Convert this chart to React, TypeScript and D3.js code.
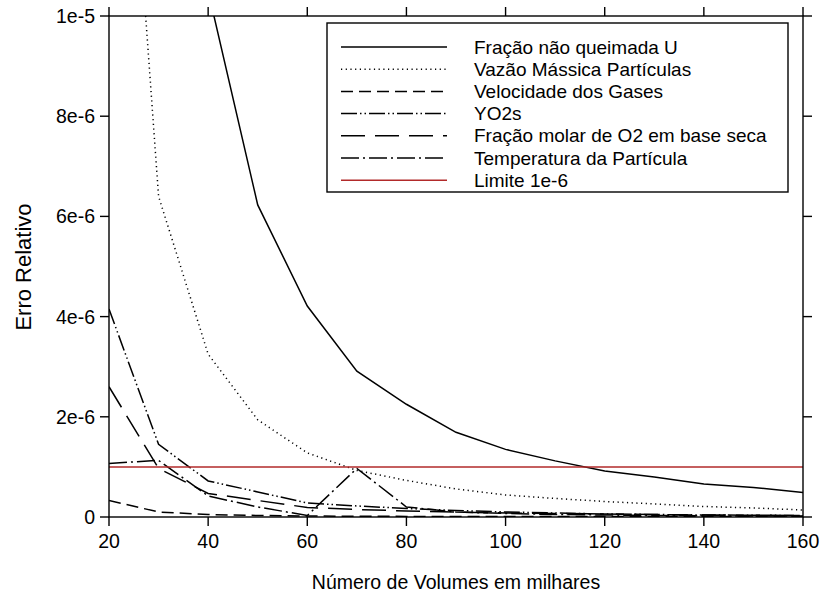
import React from "react";
import * as d3 from "d3";

const xValues = [20, 30, 40, 50, 60, 70, 80, 90, 100, 110, 120, 130, 140, 150, 160];

const fracaoNaoQueimada = [40.0, 20.0, 10.5, 6.23, 4.21, 2.91, 2.25, 1.69, 1.35, 1.12, 0.92, 0.80, 0.66, 0.59, 0.49];
const vazaoMassica = [20.2, 6.4, 3.25, 1.94, 1.28, 0.93, 0.73, 0.56, 0.44, 0.37, 0.31, 0.26, 0.21, 0.18, 0.14];
const velocidadeGases = [0.33, 0.1, 0.05, 0.03, 0.02, 0.015, 0.012, 0.01, 0.01, 0.01, 0.01, 0.01, 0.01, 0.01, 0.01];
const yo2s = [4.15, 1.45, 0.72, 0.5, 0.28, 0.22, 0.17, 0.13, 0.1, 0.08, 0.06, 0.05, 0.04, 0.035, 0.03];
const fracaoMolarO2 = [2.6, 0.97, 0.47, 0.33, 0.19, 0.15, 0.12, 0.1, 0.08, 0.07, 0.06, 0.05, 0.04, 0.035, 0.03];
const temperatura = [1.07, 1.13, 0.42, 0.2, 0.03, 0.97, 0.2, 0.1, 0.07, 0.05, 0.04, 0.03, 0.025, 0.02, 0.02];
const limite = 1e-6;

const xTicks = [20, 40, 60, 80, 100, 120, 140, 160];
const yTicks = [0, 2e-6, 4e-6, 6e-6, 8e-6, 1e-5];
const yTickLabels = ["0", "2e-6", "4e-6", "6e-6", "8e-6", "1e-5"];

const seriesNames = [
  "Fração não queimada U",
  "Vazão Mássica Partículas",
  "Velocidade dos Gases",
  "YO2s",
  "Fração molar de O2 em base seca",
  "Temperatura da Partícula",
  "Limite 1e-6",
];

const seriesData = [fracaoNaoQueimada, vazaoMassica, velocidadeGases, yo2s, fracaoMolarO2, temperatura];
const dashes = ["none", "1.2,3.5", "12,6", "16,3,1.5,3,1.5,3", "24,10", "18,4,2,4"];

export default function App() {
  const W = 822, H = 598;
  const L = 109, R = 803, T = 16, B = 517;
  const x = d3.scaleLinear().domain([20, 160]).range([L, R]);
  const y = d3.scaleLinear().domain([0, 1e-5]).range([B, T]);
  const line = d3
    .line<number>()
    .x((_, i) => x(xValues[i]))
    .y((d) => y(d * 1e-6));
  const font = "'Liberation Sans', Arial, sans-serif";
  const tick = 9;

  const legX = 327, legY = 23, legW = 461, legH = 169;
  const rowY = (i: number) => 47 + i * 22.2;

  return (
    <svg width={W} height={H} style={{ position: "absolute", left: 0, top: 0, background: "#fff" }} fontFamily={font}>
      <defs>
        <clipPath id="plot">
          <rect x={L} y={T} width={R - L} height={B - T} />
        </clipPath>
      </defs>
      <rect x={0} y={0} width={W} height={H} fill="#fff" />
      <g clipPath="url(#plot)">
        {seriesData.map((s, i) => (
          <path key={i} d={line(s) || ""} fill="none" stroke="#000" strokeWidth={1.5} strokeDasharray={dashes[i]} />
        ))}
        <line x1={L} x2={R} y1={y(limite)} y2={y(limite)} stroke="#b22a2a" strokeWidth={1.5} />
      </g>
      <rect x={L} y={T} width={R - L} height={B - T} fill="none" stroke="#000" strokeWidth={1.4} />
      {xTicks.map((t) => (
        <g key={"x" + t}>
          <line x1={x(t)} x2={x(t)} y1={B} y2={B + tick} stroke="#000" strokeWidth={1.4} />
          <line x1={x(t)} x2={x(t)} y1={T} y2={T - tick} stroke="#000" strokeWidth={1.4} />
          <text x={x(t)} y={548} textAnchor="middle" fontSize={19.5} fill="#000">
            {t}
          </text>
        </g>
      ))}
      {yTicks.map((t, i) => (
        <g key={"y" + i}>
          <line x1={L - tick} x2={L} y1={y(t)} y2={y(t)} stroke="#000" strokeWidth={1.4} />
          <line x1={R} x2={R + tick} y1={y(t)} y2={y(t)} stroke="#000" strokeWidth={1.4} />
          <text x={95} y={y(t) + 7} textAnchor="end" fontSize={19.5} fill="#000">
            {yTickLabels[i]}
          </text>
        </g>
      ))}
      <text x={456} y={589} textAnchor="middle" fontSize={19.5} fill="#000">
        Número de Volumes em milhares
      </text>
      <text transform={`translate(31,267) rotate(-90)`} textAnchor="middle" fontSize={22} fill="#000">
        Erro Relativo
      </text>
      <rect x={legX} y={legY} width={legW} height={legH} fill="#fff" stroke="#000" strokeWidth={1.4} />
      {seriesNames.map((n, i) => (
        <g key={"l" + i}>
          <line
            x1={341}
            x2={447}
            y1={rowY(i)}
            y2={rowY(i)}
            stroke={i === 6 ? "#b22a2a" : "#000"}
            strokeWidth={1.5}
            strokeDasharray={i < 6 ? dashes[i] : "none"}
          />
          <text x={474} y={rowY(i) + 6.5} fontSize={19} fill="#000">
            {n}
          </text>
        </g>
      ))}
    </svg>
  );
}
